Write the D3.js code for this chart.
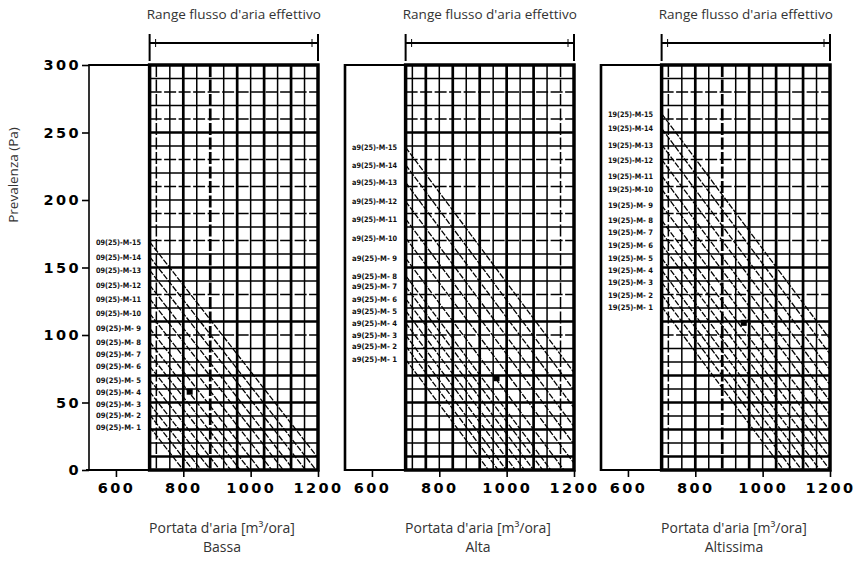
<!DOCTYPE html>
<html>
<head>
<meta charset="utf-8">
<script src="https://cdn.jsdelivr.net/npm/d3@7"></script>
<style>
  body { margin: 0; background: #fff; }
  svg { display: block; }
</style>
</head>
<body>
<svg id="chart" width="865" height="564"></svg>
<script>
// Axis ticks
const flowTicks = [600, 800, 1000, 1200];
const pressureTicks = [0, 50, 100, 150, 200, 250, 300];

// Working-range grid (flow 700–1200 m³/h, 0–300 Pa)
const gridFlows = [720, 760, 800, 840, 880, 920, 960, 1000, 1040, 1080, 1120, 1160];
const gridPressures = [10, 20, 30, 40, 50, 60, 70, 80, 90, 100, 110, 120, 130, 140, 150,
                       160, 170, 180, 190, 200, 210, 220, 230, 240, 250, 260, 270, 280, 290];

// Fan speeds and their tag names
const speedSteps = [1, 2, 3, 4, 5, 6, 7, 8, 9, 10, 11, 12, 13, 14, 15];
const panelNames = ["Bassa", "Alta", "Altissima"];
const curvePrefixes = ["09(25)-M-", "a9(25)-M-", "19(25)-M-"];

// Each curve: static pressure at 700 m³/h and the flow at which it falls to 0 Pa
const startBassa = [32, 41, 49, 58, 67, 77, 86, 95, 105, 116, 127, 137, 148, 158, 169];
const zeroFlowBassa = [800, 828, 853, 881, 909, 941, 969, 997, 1028, 1063, 1097, 1128, 1163, 1194, 1228];

const startAlta = [82, 92, 100, 109, 118, 127, 136, 144, 157, 172, 186, 199, 213, 226, 239];
const zeroFlowAlta = [946, 975, 999, 1026, 1053, 1080, 1107, 1131, 1170, 1215, 1257, 1296, 1338, 1377, 1416];

const startAltissima = [121, 130, 139, 148, 157, 167, 176, 185, 196, 208, 218, 230, 241, 253, 264];
const zeroFlowAltissima = [1062, 1089, 1116, 1143, 1170, 1200, 1227, 1254, 1287, 1323, 1353, 1389, 1422, 1457, 1490];

// Rated working point of each speed range
const markerFlows = [819, 970, 944];
const markerPressures = [58, 68, 109];

const curveStarts = [startBassa, startAlta, startAltissima];
const curveZeroFlows = [zeroFlowBassa, zeroFlowAlta, zeroFlowAltissima];

// Line emphasis inside the grid
const heavyFlowsByPanel = [[800, 880, 960, 1040, 1120], [760, 840, 920, 1000, 1080], [800, 880, 960, 1040, 1120]];
const dashedFlowsByPanel = [[720, 880], [1160], [720, 880]];
const heavyPressures = [250, 150, 110, 70, 50, 30, 10];
const dashedPressures = [280, 260, 230, 210, 190, 170, 130, 100];

const svg = d3.select("#chart");
const panelLeft = [89, 345, 601];
const panelWidth = 229;
const y = d3.scaleLinear().domain([0, 300]).range([470, 65]);
const tickFont = "'DejaVu Sans', sans-serif";
const textFont = "'Open Sans', 'Noto Sans', sans-serif";

panelLeft.forEach((L, p) => {
  const x = d3.scaleLinear().domain([520, 1200]).range([L, L + panelWidth]);
  const g = svg.append("g");
  const gx0 = x(700), gx1 = x(1200), gy0 = y(300), gy1 = y(0);

  // Clip for the curves
  const clipId = "grid-clip-" + p;
  svg.append("clipPath").attr("id", clipId)
    .append("rect").attr("x", gx0).attr("y", gy0).attr("width", gx1 - gx0).attr("height", gy1 - gy0);

  // Outer frame of the unused range (left part)
  g.append("line").attr("x1", L).attr("x2", L).attr("y1", gy0 - 1).attr("y2", gy1 + 1)
    .attr("stroke", "#000").attr("stroke-width", p === 0 ? 1.6 : 2.6);
  g.append("line").attr("x1", L).attr("x2", gx0).attr("y1", gy0).attr("y2", gy0)
    .attr("stroke", "#000").attr("stroke-width", 2);
  g.append("line").attr("x1", L - (p === 0 ? 3 : 0)).attr("x2", gx0).attr("y1", gy1).attr("y2", gy1)
    .attr("stroke", "#000").attr("stroke-width", 2);

  // Grid: vertical lines
  const heavyF = heavyFlowsByPanel[p], dashedF = dashedFlowsByPanel[p];
  g.selectAll(".vgrid").data(gridFlows).enter().append("line")
    .attr("x1", d => x(d)).attr("x2", d => x(d)).attr("y1", gy0).attr("y2", gy1)
    .attr("stroke", "#000")
    .attr("stroke-width", d => heavyF.includes(d) ? 2.7 : 1.5)
    .attr("stroke-dasharray", d => dashedF.includes(d) ? "12,2.5" : null);

  // Grid: horizontal lines
  g.selectAll(".hgrid").data(gridPressures).enter().append("line")
    .attr("x1", gx0).attr("x2", gx1).attr("y1", d => y(d)).attr("y2", d => y(d))
    .attr("stroke", "#000")
    .attr("stroke-width", d => heavyPressures.includes(d) ? 2.7 : 1.5)
    .attr("stroke-dasharray", d => dashedPressures.includes(d) ? "12,2.5" : null);

  // Fan curves
  const starts = curveStarts[p], zeros = curveZeroFlows[p];
  g.append("g").attr("clip-path", `url(#${clipId})`)
    .selectAll("line").data(speedSteps).enter().append("line")
    .attr("x1", (d, i) => x(700)).attr("y1", (d, i) => y(starts[i]))
    .attr("x2", (d, i) => x(zeros[i])).attr("y2", y(0))
    .attr("stroke", "#000").attr("stroke-width", 1.3)
    .attr("stroke-dasharray", "6,1.5");

  // Grid border
  g.append("rect").attr("x", gx0).attr("y", gy0).attr("width", gx1 - gx0).attr("height", gy1 - gy0)
    .attr("fill", "none").attr("stroke", "#000").attr("stroke-width", 3.5);

  // Working point
  g.append("rect")
    .attr("x", x(markerFlows[p]) - 3).attr("y", y(markerPressures[p]) - 3)
    .attr("width", 6).attr("height", 6).attr("fill", "#000");

  // Curve tags
  g.selectAll(".tag").data(speedSteps).enter().append("text")
    .attr("x", L + 7).attr("y", (d, i) => y(starts[i]) + 3)
    .attr("font-family", "'DejaVu Sans Condensed', 'DejaVu Sans', sans-serif")
    .attr("font-weight", "bold").attr("font-size", 7.5)
    .attr("textLength", 45).attr("lengthAdjust", "spacingAndGlyphs")
    .attr("fill", "#111")
    .text(d => curvePrefixes[p] + (d < 10 ? " " + d : d));

  // X axis
  const xAxis = g.append("g").attr("transform", `translate(0,${gy1})`)
    .call(d3.axisBottom(x).tickValues(flowTicks).tickSize(7).tickPadding(6).tickFormat(d3.format("d")));
  xAxis.select(".domain").remove();
  xAxis.selectAll(".tick line").attr("stroke", "#000").attr("stroke-width", 1.6);
  xAxis.selectAll(".tick text")
    .attr("font-family", tickFont).attr("font-weight", "bold").attr("font-size", 14.5)
    .attr("letter-spacing", "2.4px").attr("fill", "#000");

  // Y axis only on the first panel
  if (p === 0) {
    const yAxis = g.append("g").attr("transform", `translate(${L},0)`)
      .call(d3.axisLeft(y).tickValues(pressureTicks).tickSize(7).tickPadding(1).tickFormat(d3.format("d")));
    yAxis.select(".domain").remove();
    yAxis.selectAll(".tick line").attr("stroke", "#000").attr("stroke-width", 1.6);
    yAxis.selectAll(".tick text")
      .attr("font-family", tickFont).attr("font-weight", "bold").attr("font-size", 14.5)
      .attr("letter-spacing", "2.4px").attr("fill", "#000");
  }

  // Effective airflow range bracket
  const by = 43;
  g.append("line").attr("x1", gx0).attr("x2", gx1).attr("y1", by).attr("y2", by)
    .attr("stroke", "#000").attr("stroke-width", 2);
  [gx0, gx1].forEach(bx => {
    g.append("line").attr("x1", bx).attr("x2", bx).attr("y1", 34).attr("y2", 61)
      .attr("stroke", "#000").attr("stroke-width", 2);
  });
  [gx0 + 6, gx1 - 6].forEach(bx => {
    g.append("line").attr("x1", bx).attr("x2", bx).attr("y1", 39).attr("y2", 47)
      .attr("stroke", "#000").attr("stroke-width", 1);
  });
  g.append("text").attr("x", (gx0 + gx1) / 2).attr("y", 19)
    .attr("text-anchor", "middle").attr("font-family", textFont).attr("font-size", 13.5)
    .attr("fill", "#333").text("Range flusso d'aria effettivo");

  // X axis titles
  g.append("text").attr("x", L + 133).attr("y", 533)
    .attr("text-anchor", "middle").attr("font-family", textFont).attr("font-size", 14)
    .attr("fill", "#333").text("Portata d'aria [m³/ora]");
  g.append("text").attr("x", L + 133).attr("y", 552)
    .attr("text-anchor", "middle").attr("font-family", textFont).attr("font-size", 14)
    .attr("fill", "#333").text(panelNames[p]);
});

// Y axis title
svg.append("text")
  .attr("transform", "translate(18,175) rotate(-90)")
  .attr("text-anchor", "middle").attr("font-family", textFont).attr("font-size", 13.5)
  .attr("fill", "#333").text("Prevalenza (Pa)");
</script>
</body>
</html>
